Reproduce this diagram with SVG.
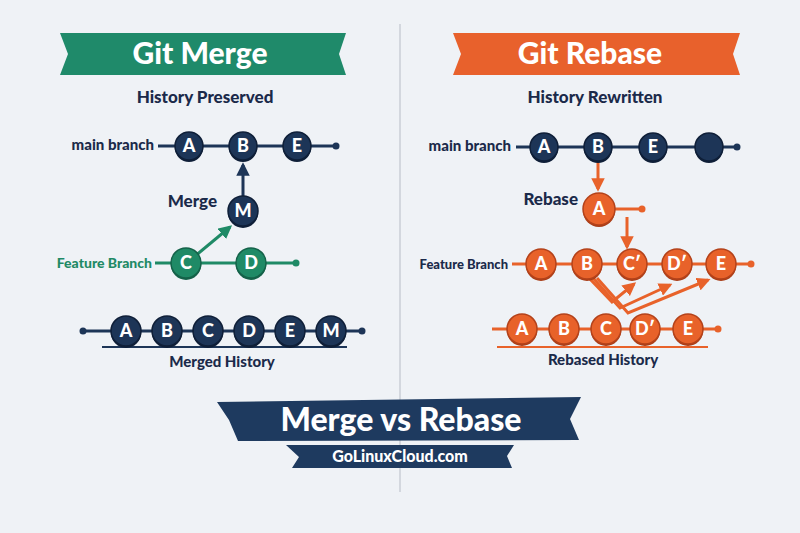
<svg xmlns="http://www.w3.org/2000/svg" width="800" height="533" viewBox="0 0 800 533">
<style>
text{font-family:Lato,"Open Sans","Liberation Sans",sans-serif;font-weight:900}
.nv{fill:#1d3557;stroke:#0f1f38;stroke-width:1.5}
.nvs{fill:#0f1f38}
.gr{fill:#1f8a66;stroke:#146249;stroke-width:1.5}
.grs{fill:#146249}
.or{fill:#e8622a;stroke:#b4421a;stroke-width:1.5}
.ors{fill:#a83c16}
.lt{fill:#ffffff;font-size:18px;text-anchor:middle}
.lbl{fill:#1b2a4a}
.ln{stroke:#1d3557;stroke-width:3;fill:none}
.lg{stroke:#1f8a66;stroke-width:3;fill:none}
.lo{stroke:#e8622a;stroke-width:3;fill:none}
</style>
<defs>
<marker id="an" viewBox="0 0 10 10" refX="8" refY="5" markerWidth="4.5" markerHeight="4.5" orient="auto"><path d="M0,0 L10,5 L0,10 z" fill="#1d3557"/></marker>
<marker id="ag" viewBox="0 0 10 10" refX="8" refY="5" markerWidth="4.5" markerHeight="4.5" orient="auto"><path d="M0,0 L10,5 L0,10 z" fill="#1f8a66"/></marker>
<marker id="ao" viewBox="0 0 10 10" refX="8" refY="5" markerWidth="4.5" markerHeight="4.5" orient="auto"><path d="M0,0 L10,5 L0,10 z" fill="#e8622a"/></marker>
</defs>
<rect width="800" height="533" fill="#eff2f6"/>
<line x1="400" y1="24" x2="400" y2="492" stroke="#d3d7de" stroke-width="2"/>

<!-- banners -->
<g id="title-merge">
<polygon points="60,33 346,33 339,54 346,75 60,75 68,54" fill="#1f8a6a"/>
<text x="200" y="64" fill="#fff" font-size="30" text-anchor="middle">Git Merge</text>
<text x="205" y="103" class="lbl" font-size="17" text-anchor="middle">History Preserved</text>
</g>
<g id="title-rebase">
<polygon points="453,33 740,33 733,54 740,75 453,75 461,54" fill="#e8612c"/>
<text x="590" y="64" fill="#fff" font-size="30" text-anchor="middle">Git Rebase</text>
<text x="595" y="103" class="lbl" font-size="17" text-anchor="middle">History Rewritten</text>
</g>
<g id="title-bottom">
<polygon points="217,402 581,397 570,419 579,440 238,441 229,420" fill="#1e3a5f"/>
<text x="401" y="431" fill="#fff" font-size="32" text-anchor="middle">Merge vs Rebase</text>
<polygon points="286,445 514,445 507,456 512,468 292,468 299,457" fill="#1e3a5f"/>
<text x="400" y="462" fill="#fff" font-size="16" text-anchor="middle">GoLinuxCloud.com</text>
</g>

<!-- connectors -->
<g id="connectors">
<line class="ln" x1="158" y1="146" x2="336" y2="146"/>
<circle cx="336" cy="146" r="3.5" fill="#1d3557"/>
<line class="ln" x1="243" y1="196" x2="243" y2="165" marker-end="url(#an)"/>
<line class="lg" x1="155" y1="263" x2="296" y2="263"/>
<circle cx="296" cy="263" r="3.5" fill="#1f8a66"/>
<line class="lg" x1="194" y1="257" x2="230" y2="227" marker-end="url(#ag)"/>
<line class="ln" x1="83" y1="331" x2="362" y2="331"/>
<circle cx="83" cy="331" r="3.5" fill="#1d3557"/>
<circle cx="362" cy="331" r="3.5" fill="#1d3557"/>
<line x1="102" y1="347" x2="347" y2="347" stroke="#1d3557" stroke-width="2"/>

<line class="ln" x1="516" y1="147" x2="737" y2="147"/>
<circle cx="737" cy="147" r="3.5" fill="#1d3557"/>
<line class="lo" x1="598" y1="162" x2="598" y2="189" marker-end="url(#ao)"/>
<line class="lo" x1="615" y1="209" x2="642" y2="209"/>
<circle cx="642" cy="209" r="3.5" fill="#e8622a"/>
<line class="lo" x1="627" y1="217" x2="627" y2="247" marker-end="url(#ao)"/>
<line class="lo" x1="512" y1="264" x2="751" y2="264"/>
<circle cx="751" cy="264" r="3.5" fill="#e8622a"/>
<path class="lo" d="M589,278 L612,302 L634,284" marker-end="url(#ao)"/>
<path class="lo" d="M593,278 L620,308 L670,285" marker-end="url(#ao)"/>
<path class="lo" d="M597,278 L628,313 L708,280" marker-end="url(#ao)"/>
<line class="lo" x1="492" y1="329" x2="718" y2="329"/>
<circle cx="718" cy="329" r="3.5" fill="#e8622a"/>
<line x1="497" y1="347" x2="708" y2="347" stroke="#e8622a" stroke-width="2"/>
</g>

<!-- labels -->
<text x="154" y="150" class="lbl" font-size="15" text-anchor="end">main branch</text>
<text x="217" y="207" class="lbl" font-size="17" text-anchor="end">Merge</text>
<text x="152" y="268" fill="#1f8a66" font-size="14" text-anchor="end">Feature Branch</text>
<text x="222" y="367" class="lbl" font-size="15" text-anchor="middle">Merged History</text>
<text x="511" y="151" class="lbl" font-size="15" text-anchor="end">main branch</text>
<text x="578" y="205" class="lbl" font-size="17" text-anchor="end">Rebase</text>
<text x="508" y="269" class="lbl" font-size="13" text-anchor="end">Feature Branch</text>
<text x="603" y="365" class="lbl" font-size="15" text-anchor="middle">Rebased History</text>

<!-- merge nodes -->
<g id="m-main-A"><circle class="nvs" cx="189" cy="148" r="14"/><circle class="nv" cx="189" cy="146" r="14"/><text class="lt" x="189" y="152">A</text></g>
<g id="m-main-B"><circle class="nvs" cx="243" cy="148" r="14"/><circle class="nv" cx="243" cy="146" r="14"/><text class="lt" x="243" y="152">B</text></g>
<g id="m-main-E"><circle class="nvs" cx="297" cy="148" r="14"/><circle class="nv" cx="297" cy="146" r="14"/><text class="lt" x="297" y="152">E</text></g>
<g id="m-M"><circle class="nvs" cx="243" cy="213" r="15"/><circle class="nv" cx="243" cy="211" r="15"/><text class="lt" x="243" y="217">M</text></g>
<g id="m-feat-C"><circle class="grs" cx="186" cy="265" r="15"/><circle class="gr" cx="186" cy="263" r="15"/><text class="lt" x="186" y="269">C</text></g>
<g id="m-feat-D"><circle class="grs" cx="251" cy="265" r="15"/><circle class="gr" cx="251" cy="263" r="15"/><text class="lt" x="251" y="269">D</text></g>
<g id="mh-A"><circle class="nvs" cx="126" cy="333" r="15"/><circle class="nv" cx="126" cy="331" r="15"/><text class="lt" x="126" y="337">A</text></g>
<g id="mh-B"><circle class="nvs" cx="167" cy="333" r="15"/><circle class="nv" cx="167" cy="331" r="15"/><text class="lt" x="167" y="337">B</text></g>
<g id="mh-C"><circle class="nvs" cx="208" cy="333" r="15"/><circle class="nv" cx="208" cy="331" r="15"/><text class="lt" x="208" y="337">C</text></g>
<g id="mh-D"><circle class="nvs" cx="249" cy="333" r="15"/><circle class="nv" cx="249" cy="331" r="15"/><text class="lt" x="249" y="337">D</text></g>
<g id="mh-E"><circle class="nvs" cx="290" cy="333" r="15"/><circle class="nv" cx="290" cy="331" r="15"/><text class="lt" x="290" y="337">E</text></g>
<g id="mh-M"><circle class="nvs" cx="331" cy="333" r="15"/><circle class="nv" cx="331" cy="331" r="15"/><text class="lt" x="331" y="337">M</text></g>

<!-- rebase nodes -->
<g id="r-main-A"><circle class="nvs" cx="544" cy="149" r="14"/><circle class="nv" cx="544" cy="147" r="14"/><text class="lt" x="544" y="153">A</text></g>
<g id="r-main-B"><circle class="nvs" cx="598" cy="149" r="14"/><circle class="nv" cx="598" cy="147" r="14"/><text class="lt" x="598" y="153">B</text></g>
<g id="r-main-E"><circle class="nvs" cx="653" cy="149" r="14"/><circle class="nv" cx="653" cy="147" r="14"/><text class="lt" x="653" y="153">E</text></g>
<g id="r-main-empty"><circle class="nvs" cx="709" cy="149" r="14"/><circle class="nv" cx="709" cy="147" r="14"/></g>
<g id="r-A"><circle class="ors" cx="599" cy="211" r="16"/><circle class="or" cx="599" cy="209" r="16"/><text class="lt" x="599" y="215">A</text></g>
<g id="r-feat-A"><circle class="ors" cx="541" cy="266" r="15"/><circle class="or" cx="541" cy="264" r="15"/><text class="lt" x="541" y="270">A</text></g>
<g id="r-feat-B"><circle class="ors" cx="587" cy="266" r="15"/><circle class="or" cx="587" cy="264" r="15"/><text class="lt" x="587" y="270">B</text></g>
<g id="r-feat-C"><circle class="ors" cx="632" cy="266" r="15"/><circle class="or" cx="632" cy="264" r="15"/><text class="lt" x="632" y="270">C′</text></g>
<g id="r-feat-D"><circle class="ors" cx="677" cy="266" r="15"/><circle class="or" cx="677" cy="264" r="15"/><text class="lt" x="677" y="270">D′</text></g>
<g id="r-feat-E"><circle class="ors" cx="721" cy="266" r="15"/><circle class="or" cx="721" cy="264" r="15"/><text class="lt" x="721" y="270">E</text></g>
<g id="rh-A"><circle class="ors" cx="522" cy="331" r="15"/><circle class="or" cx="522" cy="329" r="15"/><text class="lt" x="522" y="335">A</text></g>
<g id="rh-B"><circle class="ors" cx="564" cy="331" r="15"/><circle class="or" cx="564" cy="329" r="15"/><text class="lt" x="564" y="335">B</text></g>
<g id="rh-C"><circle class="ors" cx="606" cy="331" r="15"/><circle class="or" cx="606" cy="329" r="15"/><text class="lt" x="606" y="335">C</text></g>
<g id="rh-D"><circle class="ors" cx="645" cy="331" r="15"/><circle class="or" cx="645" cy="329" r="15"/><text class="lt" x="645" y="335">D′</text></g>
<g id="rh-E"><circle class="ors" cx="688" cy="331" r="15"/><circle class="or" cx="688" cy="329" r="15"/><text class="lt" x="688" y="335">E</text></g>
</svg>
